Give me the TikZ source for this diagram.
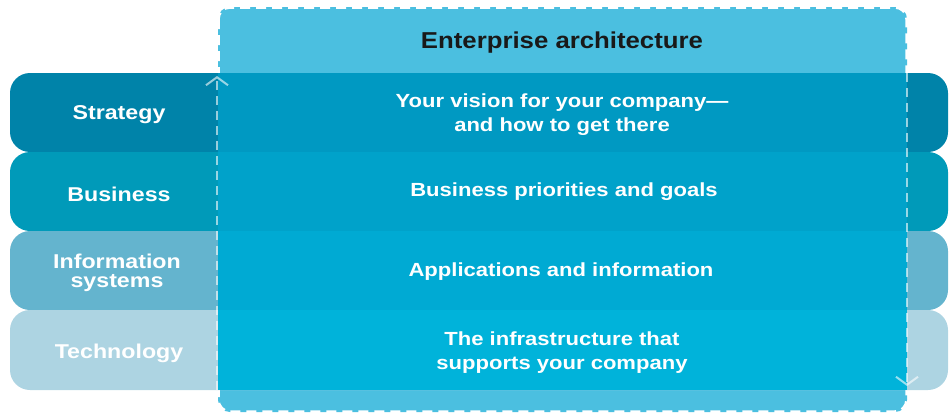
\documentclass[tikz,border=0pt]{standalone}
\usepackage{fontspec}
\setmainfont{Liberation Sans}[FakeStretch=1.12]
\newfontfamily\lblfont{Liberation Sans}[FakeStretch=1.16]
\usetikzlibrary{arrows.meta}
\definecolor{boxblue}{HTML}{4BBFE0}
\definecolor{stratside}{HTML}{0083A9}
\definecolor{stratmid}{HTML}{0099C2}
\definecolor{busside}{HTML}{009AB9}
\definecolor{busmid}{HTML}{00A2CA}
\definecolor{infoside}{HTML}{64B4CE}
\definecolor{infomid}{HTML}{00AAD3}
\definecolor{techside}{HTML}{ADD4E2}
\definecolor{techmid}{HTML}{00B3DA}
\tikzset{
  sidelabel/.style={text=white, align=center, font=\lblfont\fontsize{20}{19}\selectfont\bfseries},
  midlabel/.style={text=white, align=center, font=\lblfont\fontsize{19}{24}\selectfont\bfseries},
  titlelabel/.style={text=black!90, font=\fontsize{23}{26}\selectfont\bfseries},
  vline/.style={white, opacity=0.6, line width=2.5pt, dash pattern=on 9pt off 6pt},
  bordline/.style={white, line width=3.5pt, dash pattern=on 10pt off 6pt, rounded corners=12pt}
}
\begin{document}
\begin{tikzpicture}[x=1pt,y=-1pt]
\useasboundingbox (0,0) rectangle (951,415);
% enterprise box
\fill[boxblue, rounded corners=12pt] (218,7) rectangle (907,412);
\draw[bordline] (218,7) rectangle (907,412);
% rows
\fill[stratside, rounded corners=20pt] (10,73) rectangle (948,152);
\fill[stratmid] (218,73) rectangle (907,152);
\fill[busside, rounded corners=20pt] (10,152) rectangle (948,231);
\fill[busmid] (218,152) rectangle (907,231);
\fill[infoside, rounded corners=20pt] (10,231) rectangle (948,310);
\fill[infomid] (218,231) rectangle (907,310);
\fill[techside, rounded corners=20pt] (10,310) rectangle (948,390);
\fill[techmid] (218,310) rectangle (907,390);
% dashed arrows
\coordinate (lb) at (217,390);
\coordinate (lt) at (217,76);
\coordinate (rt) at (907,73);
\coordinate (rb) at (907,386);
\draw[vline, -{Straight Barb[length=8pt,width=22pt,line width=2pt]}] (lb) -- (lt);
\draw[vline, -{Straight Barb[length=8pt,width=22pt,line width=2pt]}] (rt) -- (rb);
% texts
\node[titlelabel] (title) at (562,43) {Enterprise architecture};
\node[sidelabel] (strat) at (119,115) {Strategy};
\node[sidelabel] (bus) at (119,194) {Business};
\node[sidelabel] (info) at (117,273) {Information\\systems};
\node[sidelabel] (tech) at (119,353) {Technology};
\node[midlabel] (vision) at (562,115) {Your vision for your company—\\and how to get there};
\node[midlabel] (prio) at (564,192) {Business priorities and goals};
\node[midlabel] (apps) at (561,272) {Applications and information};
\node[midlabel] (infra) at (562,353) {The infrastructure that\\supports your company};
\end{tikzpicture}
\end{document}
